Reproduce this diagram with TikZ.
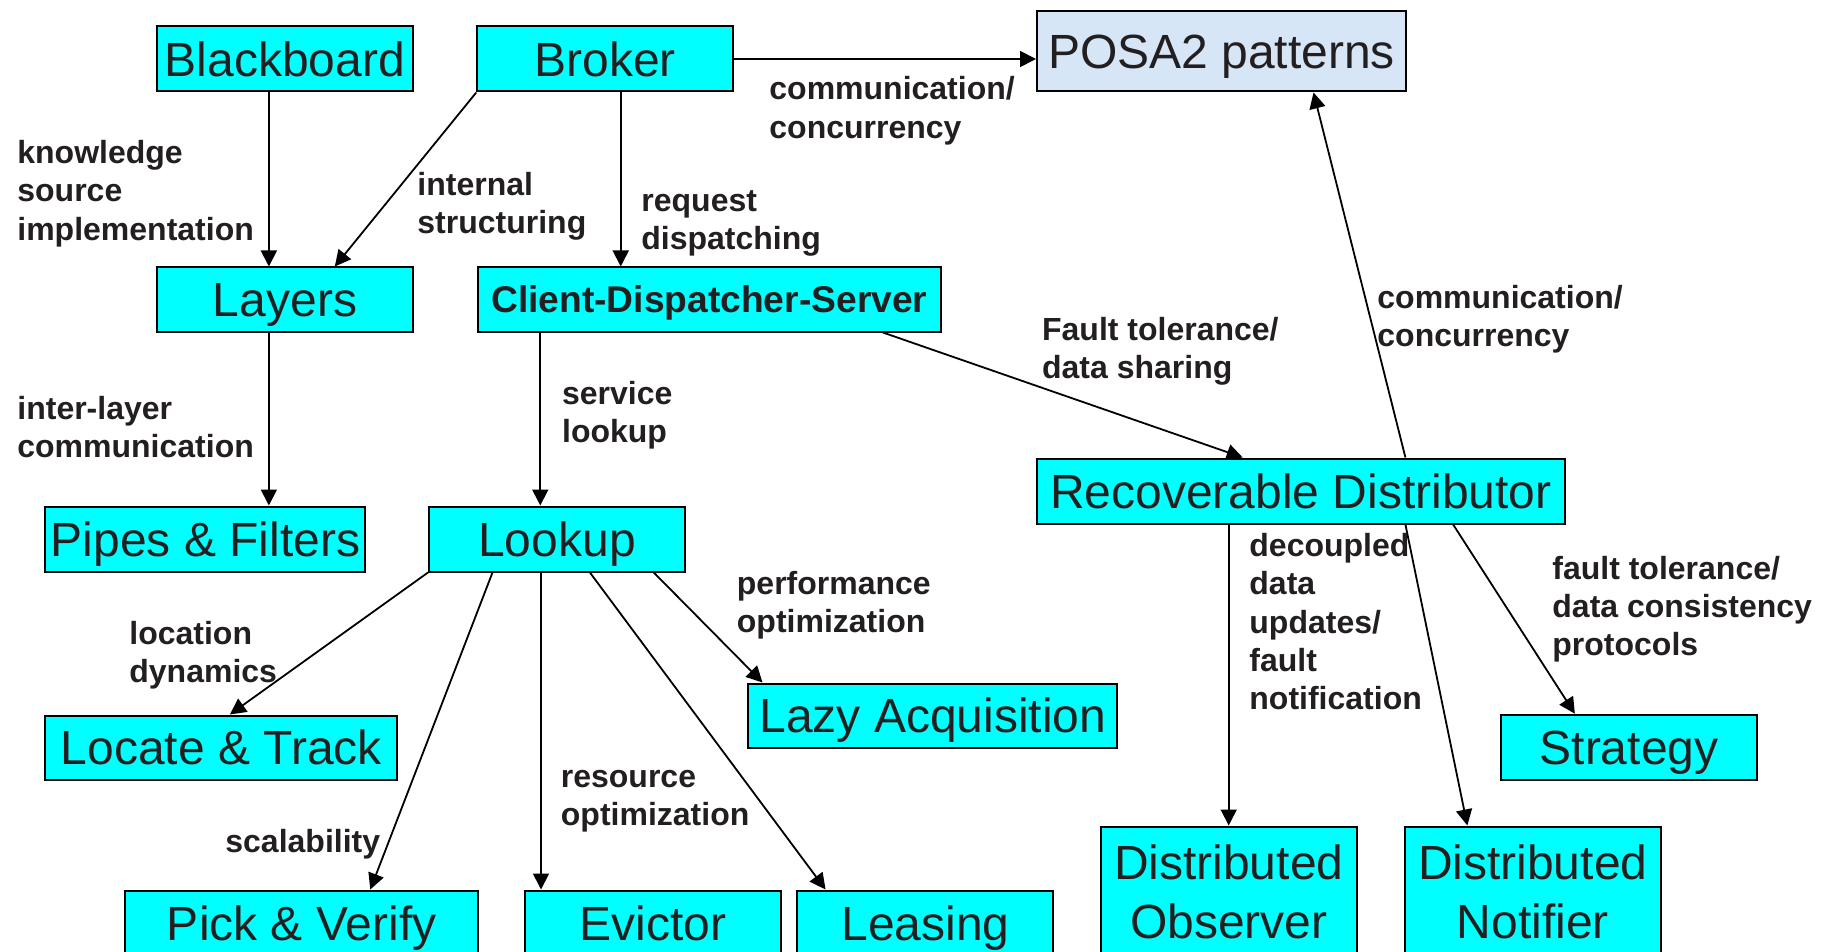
\documentclass[tikz,border=0pt]{standalone}
\usepackage{fontspec}
\setmainfont{Liberation Sans}
\usetikzlibrary{arrows.meta,calc}

\definecolor{boxcyan}{RGB}{0,255,255}
\definecolor{ink}{RGB}{35,31,32}
\definecolor{posablue}{RGB}{214,230,246}

% multi-line texts whose baseline is the first line
\newcommand{\lbl}[1]{\begin{tabular}[t]{@{}l@{}}#1\end{tabular}}
\newcommand{\twoline}[1]{\begin{tabular}[t]{@{}c@{}}#1\end{tabular}}

\tikzset{
  pbox/.style={draw=black, line width=1pt, fill=boxcyan, text=ink,
    inner sep=0pt, minimum width=128pt, minimum height=32.5pt,
    font=\fontsize{24}{29.35}\selectfont, text height=17.2pt, text depth=0pt},
  pbox2/.style={pbox, minimum height=65pt, text depth=29.35pt},
  elabel/.style={anchor=base west, inner sep=0pt, text=ink,
    font=\fontsize{16}{19.15}\selectfont\bfseries},
  link/.style={draw=black, line width=0.9pt, -{Triangle[length=8pt,width=8pt]}},
}

\begin{document}
\begin{tikzpicture}[x=0.5pt,y=-0.5pt]
\useasboundingbox (0,0) rectangle (1830,952);
\clip (0,0) rectangle (1830,952);
\begin{scope}[yshift=-0.75pt]

% pattern boxes
\node[pbox] (bb) at (285,57.5) {Blackboard};
\node[pbox] (br) at (605.25,57.5) {Broker};
\node[pbox, minimum width=184.5pt, minimum height=40pt, fill=posablue] (posa) at (1221.5,50) {POSA2 patterns};
\node[pbox, minimum height=32pt] (lay) at (285,298) {Layers};
\node[pbox, minimum width=231.75pt, minimum height=32pt, font=\fontsize{18.6}{22}\selectfont\bfseries, text height=13.3pt] (cds) at (709.25,298) {Client-Dispatcher-Server};
\node[pbox, minimum width=160pt] (pf) at (205.4,537.5) {Pipes \& Filters};
\node[pbox] (lk) at (557,537.5) {Lookup};
\node[pbox, minimum width=264pt] (rd) at (1301,489.5) {Recoverable Distributor};
\node[pbox, minimum width=184.5pt, minimum height=32pt] (la) at (932.8,714) {Lazy Acquisition};
\node[pbox, minimum width=176pt, minimum height=32pt] (lt) at (221.4,746) {Locate \& Track};
\node[pbox] (st) at (1629,745.7) {Strategy};
\node[pbox, minimum width=176.7pt] (pv) at (301.7,921.5) {Pick \& Verify};
\node[pbox] (ev) at (652.8,921.5) {Evictor};
\node[pbox] (le) at (925.4,921.5) {Leasing};
\node[pbox2] (do) at (1228.7,890) {\twoline{Distributed\\Observer}};
\node[pbox2] (dn) at (1532.7,890) {\twoline{Distributed\\Notifier}};

% relationships
\draw[link] ($(bb.south west)!0.4375!(bb.south east)$) -- ($(lay.north west)!0.4375!(lay.north east)$);
\draw[link] (br.south west) -- ($(lay.north west)!0.693!(lay.north east)$);
\draw[link] ($(br.south west)!0.56!(br.south east)$) coordinate (b1) -- (b1 |- cds.north);
\draw[link] (br.east) -- (br.east -| posa.west);
\draw[link] ($(lay.south west)!0.4375!(lay.south east)$) coordinate (l1) -- (l1 |- pf.north);
\draw[link] ($(cds.south west)!0.137!(cds.south east)$) coordinate (c1) -- (c1 |- lk.north);
\draw[link] ($(cds.south west)!0.873!(cds.south east)$) -- ($(rd.north west)!0.39!(rd.north east)$);
\draw[link] ($(rd.north west)!0.697!(rd.north east)$) -- ($(posa.south west)!0.748!(posa.south east)$);
\draw[link] ($(rd.south west)!0.3636!(rd.south east)$) coordinate (r1) -- (r1 |- do.north);
\draw[link] ($(rd.south west)!0.697!(rd.south east)$) -- ($(dn.north west)!0.2466!(dn.north east)$);
\draw[link] ($(rd.south west)!0.787!(rd.south east)$) -- ($(st.north west)!0.29!(st.north east)$);
\draw[link] (lk.south west) -- ($(lt.north west)!0.524!(lt.north east)$);
\draw[link] ($(lk.south west)!0.25!(lk.south east)$) -- ($(pv.north west)!0.693!(pv.north east)$);
\draw[link] ($(lk.south west)!0.438!(lk.south east)$) coordinate (k1) -- (k1 |- ev.north);
\draw[link] ($(lk.south west)!0.6275!(lk.south east)$) -- ($(le.north west)!0.113!(le.north east)$);
\draw[link] ($(lk.south west)!0.875!(lk.south east)$) -- ($(la.north west)!0.041!(la.north east)$);

% relationship labels
\node[elabel] (t1) at (17,162) {\lbl{knowledge\\source\\implementation}};
\node[elabel] (t2) at (417,194) {\lbl{internal\\structuring}};
\node[elabel] (t3) at (641,210) {\lbl{request\\dispatching}};
\node[elabel] (t4) at (769,98.3) {\lbl{communication/\\concurrency}};
\node[elabel] (t5) at (17,418) {\lbl{inter-layer\\communication}};
\node[elabel] (t6) at (561.7,403) {\lbl{service\\lookup}};
\node[elabel] (t7) at (1041.7,339) {\lbl{Fault tolerance/\\data sharing}};
\node[elabel] (t8) at (1377,306.7) {\lbl{communication/\\concurrency}};
\node[elabel] (t9) at (1249,555) {\lbl{decoupled\\data\\updates/\\fault\\notification}};
\node[elabel] (t10) at (1552,577.7) {\lbl{fault tolerance/\\data consistency\\protocols}};
\node[elabel] (t11) at (736.5,593) {\lbl{performance\\optimization}};
\node[elabel] (t12) at (129,642.7) {\lbl{location\\dynamics}};
\node[elabel] (t13) at (560.5,786) {\lbl{resource\\optimization}};
\node[elabel] (t14) at (225,850.7) {scalability};
\end{scope}
\end{tikzpicture}
\end{document}
